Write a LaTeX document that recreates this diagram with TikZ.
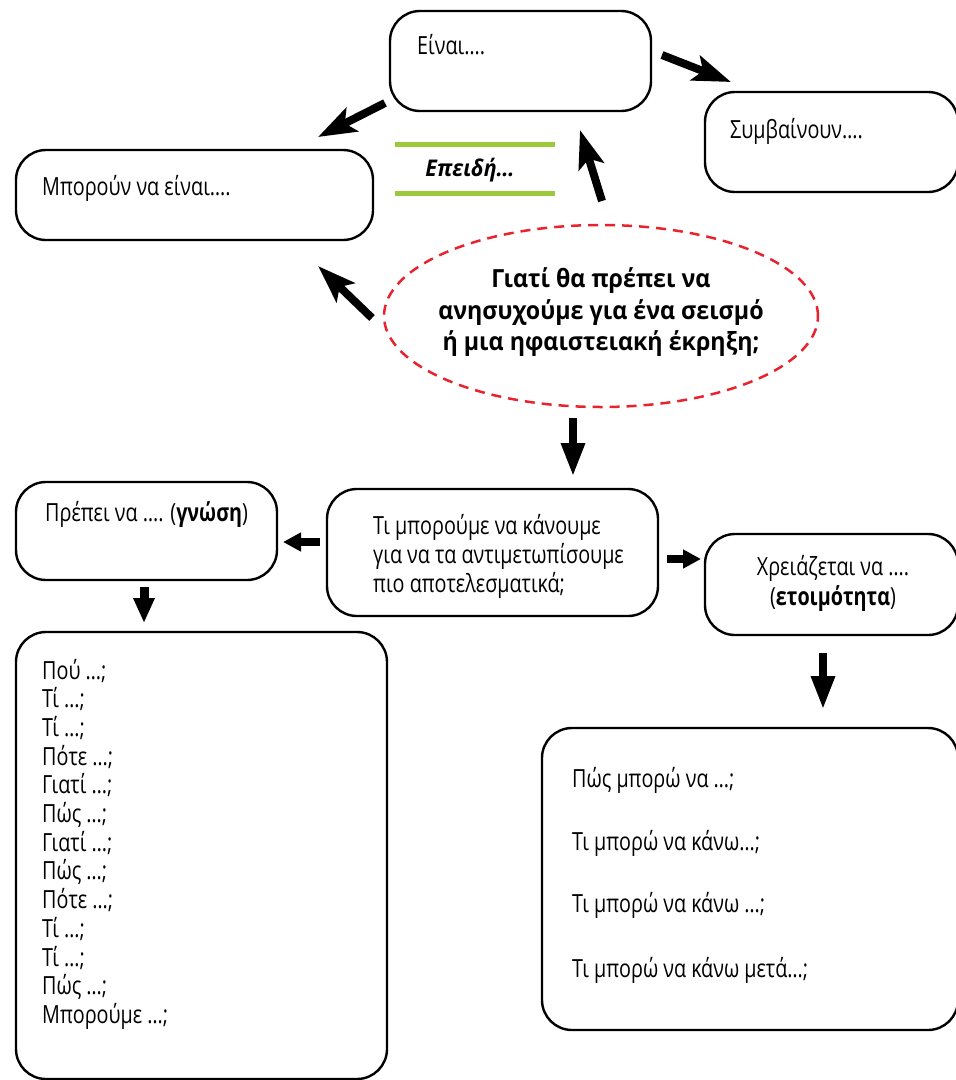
\documentclass[tikz,border=0pt]{standalone}
\usepackage{fontspec}
\setmainfont{Open Sans}[FakeStretch=0.79]
\newfontfamily\headfont{Open Sans}[FakeStretch=0.93]
\usetikzlibrary{arrows.meta,shapes.geometric}
\definecolor{ered}{RGB}{232,35,45}
\definecolor{lgreen}{RGB}{155,200,60}
\tikzset{
  box/.style={draw, line width=2.4pt, rounded corners=30pt, inner sep=0pt},
  txt/.style={inner sep=0pt, anchor=base west, font=\fontsize{25}{30}\selectfont},
  ctxt/.style={inner sep=0pt, anchor=base, font=\fontsize{25}{30}\selectfont},
  qtxt/.style={inner sep=0pt, anchor=base, font=\headfont\bfseries\fontsize{25}{30}\selectfont},
  bigarr/.style={line width=8pt, -{Stealth[length=38pt,width=26pt,inset=8pt]}},
  downarr/.style={line width=8.5pt, -{Triangle[length=34pt,width=22pt]}},
  smallarr/.style={line width=8pt, -{Triangle[length=18pt,width=18pt]}},
  gline/.style={draw=lgreen, line width=5pt},
  redell/.style={draw=ered, line width=2.5pt, dash pattern=on 10pt off 7pt, ellipse, inner sep=0pt}
}
\begin{document}
\begin{tikzpicture}[x=1pt,y=-1pt]
\useasboundingbox (0,0) rectangle (956,1080);
% boxes
\node[box, minimum width=261pt, minimum height=100pt] (eina) at (520.5,61) {};
\node[box, minimum width=253pt, minimum height=100pt] (symv) at (831.5,142) {};
\node[box, minimum width=357pt, minimum height=90pt] (mpor) at (194.5,195) {};
\node[box, minimum width=261pt, minimum height=98pt] (prep) at (146.5,531) {};
\node[box, minimum width=331pt, minimum height=127pt] (ti) at (492.5,552.5) {};
\node[box, minimum width=253pt, minimum height=101pt] (xrei) at (831.5,584.5) {};
\node[box, minimum width=371pt, minimum height=447pt] (list) at (201.5,855.5) {};
\node[box, minimum width=416pt, minimum height=302pt] (rlist) at (750,879) {};
\node[redell, minimum width=434pt, minimum height=182pt] (ell) at (601,316) {};
% texts
\node[txt] (teina) at (417,54) {Είναι….};
\node[txt] (tsymv) at (730,138) {Συμβαίνουν….};
\node[txt] (tmpor) at (42,195) {Μπορούν να είναι….};
\node[txt] (tprep) at (45,521) {Πρέπει να …. (\textbf{γνώση})};
\node[txt] (tti1) at (373,534) {Τι μπορούμε να κάνουμε};
\node[txt] (tti2) at (373,563) {για να τα αντιμετωπίσουμε};
\node[txt] (tti3) at (373,592) {πιο αποτελεσματικά;};
\node[ctxt] (txr1) at (833,575) {Χρειάζεται να ….};
\node[ctxt] (txr2) at (833,605) {(\textbf{ετοιμότητα})};
\node[qtxt] (q1) at (601,287) {Γιατί θα πρέπει να};
\node[qtxt] (q2) at (601,319) {ανησυχούμε για ένα σεισμό};
\node[qtxt] (q3) at (601,350) {ή μια ηφαιστειακή έκρηξη;};
\node[inner sep=0pt, anchor=base, font=\headfont\bfseries\itshape\fontsize{23}{28}\selectfont] (epeidi) at (470,176) {Επειδή…};
\foreach \t [count=\i] in {{Πού …;},{Τί …;},{Τί …;},{Πότε …;},{Γιατί …;},{Πώς …;},{Γιατί …;},{Πώς …;},{Πότε …;},{Τί …;},{Τί …;},{Πώς …;},{Μπορούμε …;}}
  \node[txt] (l\i) at (42,{679+(\i-1)*28.7}) {\t};
\node[txt] (r1) at (572,787) {Πώς μπορώ να …;};
\node[txt] (r2) at (572,850) {Τι μπορώ να κάνω…;};
\node[txt] (r3) at (572,912) {Τι μπορώ να κάνω …;};
\node[txt] (r4) at (572,977) {Τι μπορώ να κάνω μετά…;};
% green lines
\coordinate (g1a) at (395,144); \coordinate (g1b) at (555,144);
\coordinate (g2a) at (395,193); \coordinate (g2b) at (555,193);
\draw[gline] (g1a) -- (g1b);
\draw[gline] (g2a) -- (g2b);
% arrow end points
\coordinate (a1s) at (662,55);  \coordinate (a1e) at (731,82);
\coordinate (a2s) at (385,103); \coordinate (a2e) at (318,137);
\coordinate (a3s) at (602,201); \coordinate (a3e) at (580,130);
\coordinate (a4s) at (372,318); \coordinate (a4e) at (318,266);
\coordinate (a5s) at (573,418); \coordinate (a5e) at (573,477);
\coordinate (a6s) at (320,542); \coordinate (a6e) at (283,542);
\coordinate (a7s) at (667,559); \coordinate (a7e) at (701,559);
\coordinate (a8s) at (144,587); \coordinate (a8e) at (144,623);
\coordinate (a9s) at (823,653); \coordinate (a9e) at (823,710);
\draw[bigarr] (a1s) -- (a1e);
\draw[bigarr] (a2s) -- (a2e);
\draw[bigarr] (a3s) -- (a3e);
\draw[bigarr] (a4s) -- (a4e);
\draw[downarr] (a5s) -- (a5e);
\draw[smallarr] (a6s) -- (a6e);
\draw[smallarr] (a7s) -- (a7e);
\draw[line width=9pt, -{Triangle[length=25pt,width=20pt]}] (a8s) -- (a8e);
\draw[downarr] (a9s) -- (a9e);
\end{tikzpicture}
\end{document}
